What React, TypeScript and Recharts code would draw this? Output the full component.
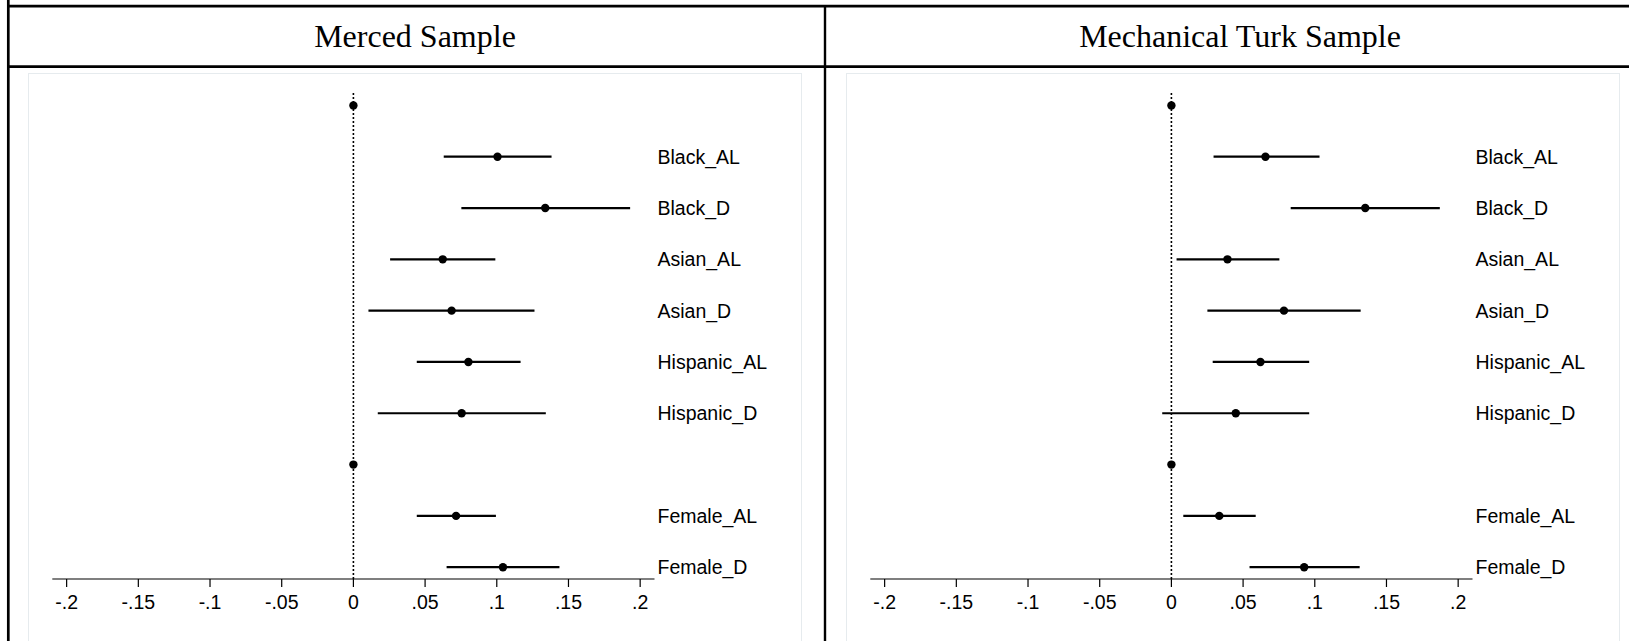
import { ScatterChart, Scatter, XAxis, YAxis, ErrorBar, ReferenceLine } from 'recharts';

// row 1 and row 8 are the reference categories (drawn at 0, no label)
const rowLabels = ['', 'Black_AL', 'Black_D', 'Asian_AL', 'Asian_D', 'Hispanic_AL', 'Hispanic_D', '', 'Female_AL', 'Female_D'];
const rowPositions = [1, 2, 3, 4, 5, 6, 7, 8, 9, 10];

const xTicks = [-0.2, -0.15, -0.1, -0.05, 0, 0.05, 0.1, 0.15, 0.2];
const xTickLabels = ['-.2', '-.15', '-.1', '-.05', '0', '.05', '.1', '.15', '.2'];

const mercedEst = [0, 0.1005, 0.1338, 0.0623, 0.0685, 0.0802, 0.0755, 0, 0.0716, 0.1043];
const mercedLo = [0, 0.063, 0.0753, 0.0256, 0.0105, 0.0442, 0.017, 0, 0.0442, 0.065];
const mercedHi = [0, 0.1382, 0.193, 0.099, 0.1263, 0.1166, 0.1342, 0, 0.0994, 0.1437];

const mturkEst = [0, 0.0656, 0.1352, 0.0391, 0.0785, 0.0621, 0.0449, 0, 0.0334, 0.0926];
const mturkLo = [0, 0.0294, 0.0832, 0.0036, 0.0251, 0.0288, -0.0064, 0, 0.0083, 0.0545];
const mturkHi = [0, 0.1033, 0.1872, 0.0753, 0.132, 0.0961, 0.0961, 0, 0.0588, 0.1313];

const panelTitles = ['Merced Sample', 'Mechanical Turk Sample'];

const FONT = '"Liberation Sans", Arial, Helvetica, sans-serif';
const SERIF = '"Liberation Serif", "Times New Roman", serif';

function buildRows(est: number[], lo: number[], hi: number[]) {
    return rowPositions.map((row, i) => ({
        row,
        est: est[i],
        err: [est[i] - lo[i], hi[i] - est[i]],
    }));
}

const Dot = (props: any) => <circle cx={props.cx} cy={props.cy} r={4.2} fill="#000" />;

function CoefPanel({ est, lo, hi }: { est: number[]; lo: number[]; hi: number[] }) {
    const rows = buildRows(est, lo, hi);
    return (
        <ScatterChart width={774} height={570} margin={{ top: 18.4, right: 0, bottom: 0, left: 24.3 }}>
            <XAxis
                type="number"
                dataKey="est"
                domain={[-0.21, 0.21]}
                allowDataOverflow
                ticks={xTicks}
                interval={0}
                tickFormatter={(v: number, i: number) => xTickLabels[i] ?? String(v)}
                height={64}
                tickSize={8}
                tickMargin={8.5}
                axisLine={{ stroke: '#000', strokeWidth: 1.2 }}
                tickLine={{ stroke: '#000', strokeWidth: 1.2 }}
                tick={{ fontSize: 19.5, fill: '#000', fontFamily: FONT }}
            />
            <YAxis
                type="number"
                dataKey="row"
                orientation="right"
                reversed
                domain={[0.727, 10.23]}
                allowDataOverflow
                ticks={rowPositions}
                interval={0}
                tickFormatter={(v: number) => rowLabels[v - 1] ?? ''}
                width={147.5}
                tickSize={0}
                tickMargin={3}
                axisLine={false}
                tickLine={false}
                tick={{ fontSize: 19.5, fill: '#000', fontFamily: FONT, textAnchor: 'start' }}
            />
            <ReferenceLine x={0} stroke="#000" strokeWidth={1.6} strokeDasharray="2 2" />
            <Scatter data={rows} shape={Dot} isAnimationActive={false}>
                <ErrorBar dataKey="err" direction="x" width={0} stroke="#000" strokeWidth={2.2} isAnimationActive={false} />
            </Scatter>
        </ScatterChart>
    );
}

export default function App() {
    return (
        <div
            style={{
                position: 'absolute',
                top: 0,
                left: 0,
                width: 1629,
                height: 641,
                overflow: 'hidden',
                background: '#fff',
            }}
        >
            {/* table frame and panel titles */}
            <svg width={1629} height={641} style={{ position: 'absolute', top: 0, left: 0 }}>
                <line x1={8.3} y1={0} x2={8.3} y2={641} stroke="#000" strokeWidth={2.7} />
                <line x1={8.3} y1={6.2} x2={1629} y2={6.2} stroke="#000" strokeWidth={2.7} />
                <line x1={8.3} y1={66.7} x2={1629} y2={66.7} stroke="#000" strokeWidth={2.7} />
                <line x1={825} y1={6.2} x2={825} y2={641} stroke="#000" strokeWidth={2.4} />
                <text x={415} y={47} textAnchor="middle" fontSize={32} fontFamily={SERIF} fill="#000">
                    {panelTitles[0]}
                </text>
                <text x={1240} y={47} textAnchor="middle" fontSize={32} fontFamily={SERIF} fill="#000">
                    {panelTitles[1]}
                </text>
            </svg>
            <div style={{ position: 'absolute', left: 28, top: 73.3, width: 774, height: 600, border: '1px solid #e6ebee', boxSizing: 'border-box' }}>
                <div style={{ position: 'absolute', left: -1, top: -1 }}>
                    <CoefPanel est={mercedEst} lo={mercedLo} hi={mercedHi} />
                </div>
            </div>
            <div style={{ position: 'absolute', left: 845.7, top: 73.3, width: 774, height: 600, border: '1px solid #e6ebee', boxSizing: 'border-box' }}>
                <div style={{ position: 'absolute', left: -1, top: -1 }}>
                    <CoefPanel est={mturkEst} lo={mturkLo} hi={mturkHi} />
                </div>
            </div>
        </div>
    );
}
